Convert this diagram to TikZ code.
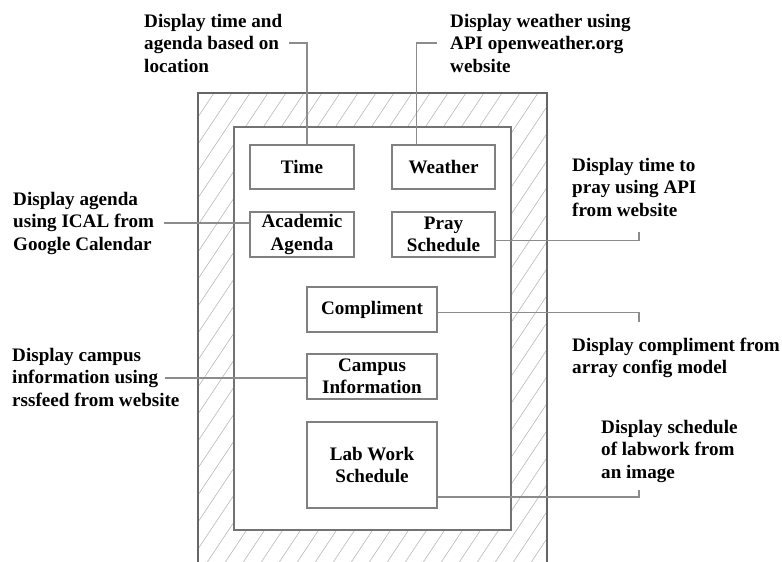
\documentclass[tikz,border=0pt]{standalone}
\usepackage{fontspec}
\setmainfont{Liberation Serif}
\usepackage{tikz}
\tikzset{
	part/.style={draw=black!50, line width=1.7pt, fill=white, font=\fontsize{16.3}{19.2}\selectfont\bfseries, align=center, inner sep=0pt},
	note/.style={font=\fontsize{16.3}{19.2}\selectfont\bfseries, align=left, anchor=west, inner sep=0pt},
	link/.style={draw=black!45, line width=0.9pt},
	hatch/.style={black!28, line width=0.5pt}
}

\begin{document}
\begin{tikzpicture}[x=0.03cm,y=-0.03cm]
	\path[use as bounding box, clip] (0,0) rectangle (782,562);
	\begin{scope}
		\clip (198,93) rectangle (547,600);
		\foreach \i in {0,...,40}{
			\draw[hatch] (-160+18*\i,600) -- ++(400,-600);
		}
	\end{scope}
	\draw[black!60, line width=1pt] (198,600) |- (547,93) -- (547,600);
	\draw[black!55, line width=1pt, fill=white] (234,127) rectangle (511,530);

	\node[part, minimum width=3.12cm, minimum height=1.32cm] (time) at (302,167) {Time};
	\node[part, minimum width=3.09cm, minimum height=1.32cm] (weather) at (443.5,167) {Weather};
	\node[part, minimum width=3.12cm, minimum height=1.35cm] (agenda) at (302,234.5) {Academic\\Agenda};
	\node[part, minimum width=3.09cm, minimum height=1.35cm] (pray) at (443.5,234.5) {Pray\\Schedule};
	\node[part, minimum width=3.9cm, minimum height=1.35cm] (compliment) at (372,309.5) {Compliment};
	\node[part, minimum width=3.9cm, minimum height=1.35cm] (campus) at (372,376.5) {Campus\\Information};
	\node[part, minimum width=3.9cm, minimum height=2.58cm] (lab) at (372,465) {Lab Work\\Schedule};

	\node[note] (timenote) at (144,43) {Display time and\\agenda based on\\location};
	\node[note] (weathernote) at (450,43) {Display weather using\\API openweather.org\\website};
	\node[note] (agendanote) at (13,223) {Display agenda\\using ICAL from\\Google Calendar};
	\node[note] (praynote) at (572,187) {Display time to\\pray using API\\from website};
	\node[note] (complnote) at (572,358) {Display compliment from\\array config model};
	\node[note] (campusnote) at (12,377) {Display campus\\information using\\rssfeed from website};
	\node[note] (labnote) at (601,451) {Display schedule\\of labwork from\\an image};

	\coordinate (praytick) at (639,232);
	\coordinate (compltick) at (639,322);
	\coordinate (labtick) at (639,490);
	\coordinate (campustail) at (165,378);

	\draw[link] ([xshift=0.15cm]time.north) |- ([xshift=0.2cm]timenote.east);
	\draw[link] ([xshift=-0.8cm]weather.north) |- ([xshift=-0.4cm]weathernote.west);
	\draw[link] ([xshift=0.3cm]agendanote.east) -- (agendanote.east -| agenda.west);
	\draw[link] ([yshift=-0.17cm]pray.east) -| (praytick);
	\draw[link] ([yshift=-0.08cm]compliment.east) -| (compltick);
	\draw[link] (campustail) -- (campustail -| campus.west);
	\draw[link] ([yshift=-0.96cm]lab.east) -| (labtick);
\end{tikzpicture}
\end{document}
